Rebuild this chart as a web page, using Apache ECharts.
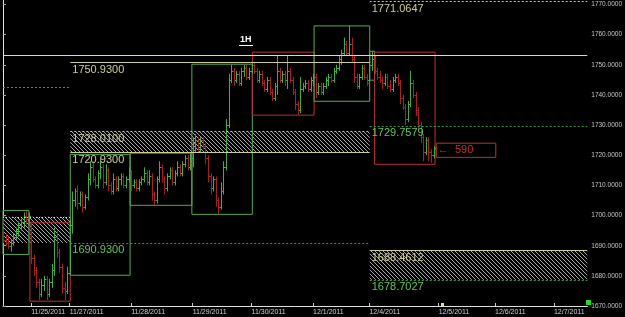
<!DOCTYPE html>
<html><head><meta charset="utf-8">
<script src="https://cdn.jsdelivr.net/npm/echarts@6/dist/echarts.min.js"></script>
<style>html,body{margin:0;padding:0;background:#000}#c{width:625px;height:317px}</style>
</head><body><div id="c"></div><script>
// hourly OHLC bars per session: [open, high, low, close]
const s1124 = [[1694,1695,1691,1692],[1692,1694,1690,1691],[1691,1693,1689,1690],[1690,1692,1688,1691],[1691,1694,1690,1693],[1693,1696,1692,1695],[1695,1698,1693,1697],[1697,1699,1695,1698],[1698,1701,1696,1700],[1700,1701.5,1697,1699],[1699,1701,1697,1700]];
const s1125 = [[1697,1698,1684,1686],[1686,1687,1680,1682],[1682,1683,1676,1678],[1678,1679,1672,1674],[1674,1679,1673,1677],[1677,1680,1675,1679],[1679,1680,1672,1674],[1674,1679,1673,1678],[1678,1684,1676,1682],[1682,1696,1680,1693],[1693,1695,1686,1688],[1688,1689,1681,1683],[1683,1684,1674,1676],[1676,1678,1672,1675],[1675,1683,1674,1681]];
const s1127 = [[1681,1699,1680.5,1697],[1697,1708,1694,1705],[1705,1709,1703,1708],[1708,1710,1702,1704],[1704,1708,1703,1707],[1707,1708,1701,1703],[1703,1707,1702,1706],[1706,1714,1705,1712],[1712,1718,1710,1716],[1716,1718,1711,1712],[1712,1713,1709,1710],[1710,1715,1709,1714],[1714,1719,1712,1716],[1716,1717,1709,1711],[1711,1717,1710,1715],[1715,1716,1708,1710],[1710,1711,1707,1708],[1708,1714,1707,1712],[1712,1713,1708,1709],[1709,1713,1708,1712],[1712,1714,1710,1713],[1713,1714,1709,1710],[1710,1713,1709,1712],[1712,1716,1711,1714]];
const s1128 = [[1714,1715,1708,1710],[1710,1712,1709,1711],[1711,1712,1708,1709],[1709,1712,1708,1711],[1711,1713,1710,1712],[1712,1716,1711,1714],[1714,1715,1710,1711],[1711,1715,1710,1713],[1713,1714,1705,1707],[1707,1708,1703.5,1705],[1705,1713,1704,1712],[1712,1718,1711,1716],[1716,1717,1711,1712],[1712,1713,1707,1709],[1709,1714,1708,1713],[1713,1716,1712,1715],[1715,1716,1710,1711],[1711,1715,1710,1714],[1714,1718,1713,1716],[1716,1717,1713,1714],[1714,1718,1713,1717],[1717,1720,1716,1719],[1719,1720,1715,1716],[1716,1720.5,1715,1719]];
const s1129 = [[1719,1726,1716,1724],[1724,1727,1721,1725],[1725,1726,1721,1722],[1722,1726,1721,1725],[1725,1726,1722,1723],[1723,1724,1717,1719],[1719,1720,1711,1713],[1713,1714,1707,1709],[1709,1713,1708,1712],[1712,1713,1703,1705],[1705,1706,1700.5,1703],[1703,1711,1702,1708],[1708,1718,1707,1716],[1716,1732,1715,1730],[1730,1747,1729,1745],[1745,1750,1744,1748],[1748,1749,1743,1745],[1745,1748,1744,1747],[1747,1748,1743,1744],[1744,1749,1743,1748],[1748,1750,1746,1749],[1749,1750,1745,1746],[1746,1749,1745,1748],[1748,1751,1747,1750]];
const s1130 = [[1750,1751,1747,1748],[1748,1749,1744,1745],[1745,1748,1744,1747],[1747,1748,1743,1744],[1744,1745,1741,1742],[1742,1746,1741,1745],[1745,1746,1740,1741],[1741,1742,1738,1739],[1739,1744,1738,1743],[1743,1753,1740,1748],[1748,1749,1744,1745],[1745,1748,1744,1747],[1747,1748,1743,1745],[1745,1753,1742,1748],[1748,1749,1744,1745],[1745,1746,1740,1741],[1741,1742,1735,1737],[1737,1738,1733.5,1735],[1735,1746,1734,1742],[1742,1744,1741,1743],[1743,1745,1742,1744],[1744,1745,1741,1742],[1742,1746,1741,1745],[1745,1747,1743,1746]];
const s1201 = [[1746,1747,1739,1741],[1741,1744,1740,1743],[1743,1744,1740,1741],[1741,1744,1740,1743],[1743,1746,1742,1745],[1745,1747,1743,1746],[1746,1747,1744,1745],[1745,1749,1744,1748],[1748,1750,1747,1749],[1749,1753,1748,1752],[1752,1755,1750,1754],[1754,1759,1753,1757],[1757,1758,1753,1754],[1754,1763,1753,1757],[1757,1759,1751,1752],[1752,1753,1744,1746],[1746,1747,1742,1743],[1743,1747,1742,1746],[1746,1750,1745,1749],[1749,1750,1745,1746],[1746,1747,1743,1744]];
const s1204 = [[1745,1754,1744.5,1750],[1750,1754.5,1748,1752],[1752,1753,1747,1748],[1748,1749,1745,1746],[1746,1748,1744,1745],[1745,1746,1742,1744],[1744,1747,1743,1746],[1746,1747,1742,1743],[1743,1745,1741,1742],[1742,1746,1741,1745],[1745,1747,1744,1746],[1746,1747,1743,1744],[1744,1745,1737,1739],[1739,1740,1735,1736],[1736,1737,1730,1732],[1732,1738,1731,1737],[1737,1748,1736,1744],[1744,1745,1739,1740],[1740,1741,1733,1735],[1735,1736,1728,1730],[1730,1731,1724,1726],[1726,1727,1718,1721],[1721,1726,1720,1725],[1725,1726,1718,1721],[1721,1722,1717.5,1720],[1720,1723,1719,1722.5]];

// date tick labels at bar slot index
const dateTicks = [[11,'11/25/2011'],[26,'11/27/2011'],[50,'11/28/2011'],[74,'11/29/2011'],[97,'11/30/2011'],[121,'12/1/2011'],[143,'12/4/2011'],[170,'12/5/2011'],[192,'12/6/2011'],[215,'12/7/2011']];
const slotCount = 229;
const yTicksMin = 1670, yTicksMax = 1771.5, yStep = 10;

// session range boxes: [fromSlot, toSlot, high, low, kind]
const boxes = [[0,10.1,1701.7,1687.1,'g'],[10.5,26.25,1697.6,1671.6,'r'],[26.25,49.6,1720.3,1680.2,'g'],[49.6,73.7,1720.7,1703.4,'g'],[73.7,97.3,1750.2,1700.4,'g'],[97.3,121.4,1754.2,1733.3,'r'],[121.4,143.1,1762.9,1737.9,'g'],[143.1,145,1754.5,1744.9,'g'],[145,168.6,1754.2,1717,'r']];
// hatched zones: [fromSlot, toSlot, top, bottom]
const zones = [[0,26.25,1699.6,1690.93],[26.25,143.1,1728.01,1720.93],[143.1,228,1688.46,1678.70]];
// level lines: [fromSlot, toSlot, value, kind, label]
const levels = [[0,228,1753.2,'w',''],[26.25,143.1,1750.93,'k','1750.9300'],[0,26.25,1742.7,'gd',''],[26.25,143.1,1728.01,'kd','1728.0100'],[26.25,143.1,1720.93,'k','1720.9300'],[26.25,143.1,1690.93,'gd','1690.9300'],[0,26.25,1699.6,'wd',''],[143.1,228,1771.0647,'kd','1771.0647'],[143.1,228,1729.7579,'gd','1729.7579'],[143.1,228,1688.4612,'k','1688.4612'],[143.1,228,1678.7027,'gd','1678.7027']];
const lastPrice = 1722.5;
const note = {from:169.1, to:192.3, top:1724.0, bottom:1719.3, text:'590'};

const GREEN = '#45ad45', RED = '#a82020', KHAKI = '#cdcd96', BOXG = '#57a857', BOXR = '#b83035', GLAB = '#5cc85c';
const bars = [].concat(s1124,s1125,s1127,s1128,s1129,s1130,s1201,s1204).map((b,i)=>[i,b[0],b[1],b[2],b[3]]);
const cats = Array.from({length:slotCount},()=> '');
dateTicks.forEach(([i,t])=>{cats[i]=t;});

function hatch(){
  const c=document.createElement('canvas'); c.width=4; c.height=4;
  const g=c.getContext('2d'); g.fillStyle='#000'; g.fillRect(0,0,4,4);
  g.fillStyle='#a8a8a8'; for(let i=0;i<4;i++) g.fillRect(i,i,1,1);
  return c;
}
const pat = {image:hatch(), repeat:'repeat'};
const LF = "'Liberation Sans Narrow','Liberation Sans',sans-serif";

function lineStyleOf(k){
  const m = {w:['#d8d8d8','solid'],k:[KHAKI,'solid'],kd:[KHAKI,[2,2]],gd:['#3d9a3d',[2,2]],wd:['#dddddd',[1,2]]};
  return {color:m[k][0], type:m[k][1], width:1};
}

const chart = echarts.init(document.getElementById('c'), null, {renderer:'canvas'});
chart.setOption({
  backgroundColor:'#000',
  animation:false,
  grid:{left:3,right:34,top:0,bottom:11,containLabel:false},
  xAxis:[
    {type:'value',min:0,max:slotCount-1,show:false},
    {type:'category',data:cats,boundaryGap:false,position:'bottom',
     axisLine:{lineStyle:{color:'#e0e0e0',width:1}},
     axisTick:{inside:true,length:3,interval:(i,v)=>v!=='',lineStyle:{color:'#ccc'}},
     axisLabel:{interval:0,align:'left',margin:3,fontSize:7,color:'#cfcfcf',fontFamily:LF},
     splitLine:{show:false}}
  ],
  yAxis:[
    {type:'value',position:'right',min:yTicksMin,max:yTicksMax,interval:yStep,
     axisLine:{show:true,lineStyle:{color:'#e0e0e0'}},
     axisTick:{show:true,length:3,lineStyle:{color:'#aaa'}},
     axisLabel:{margin:4,fontSize:6.5,color:'#c8c8c8',fontFamily:'Liberation Sans',showMaxLabel:false,formatter:v=>v.toFixed(4)},
     splitLine:{show:false}},
    {type:'value',position:'left',min:yTicksMin,max:yTicksMax,interval:yStep,
     axisLine:{show:true,lineStyle:{color:'#e0e0e0'}},axisTick:{show:false},axisLabel:{show:false},splitLine:{show:false}}
  ],
  graphic:[
    {type:'text',left:240,top:35,style:{text:'1H',fill:'#ffffff',font:'bold 9px Liberation Sans'}},
    {type:'line',shape:{x1:239,y1:45.5,x2:253,y2:45.5},style:{stroke:'#fff',lineWidth:1}},
    {type:'rect',shape:{x:586,y:300,width:5,height:5},style:{fill:'#22dd22'}},
    {type:'rect',shape:{x:441,y:303,width:3,height:3},style:{fill:'#e8e070'}}
  ],
  series:[
    {type:'line',data:[],z:1,silent:true,
     markArea:{silent:true,data:zones.map(z=>[{xAxis:z[0],yAxis:z[2],itemStyle:{color:pat,borderWidth:0}},{xAxis:z[1],yAxis:z[3]}])}},
    {type:'line',data:[],z:2,silent:true,
     markLine:{silent:true,symbol:'none',animation:false,
       data:levels.map(l=>[{coord:[l[0],l[2]],lineStyle:lineStyleOf(l[3]),
         label:{show:!!l[4],formatter:l[4],position:'insideStartBottom',distance:[2,2],
           color:(l[3][0]==='g'?GLAB:KHAKI),fontSize:11,fontFamily:LF}},
         {coord:[l[1],l[2]]}]).concat([
         {yAxis:lastPrice,lineStyle:{opacity:0},label:{show:true,position:'end',formatter:lastPrice.toFixed(4),
           backgroundColor:'#fff',color:'#000',padding:[1,2,1,2],fontSize:6.5,fontFamily:'Liberation Sans',distance:2}}
       ])}},
    {type:'custom',z:3,data:bars,encode:{x:0,y:[1,2,3,4]},
     renderItem:(p,api)=>{
       const x=api.value(0),o=api.value(1),h=api.value(2),l=api.value(3),c=api.value(4);
       const ph=api.coord([x,h]),pl=api.coord([x,l]),po=api.coord([x,o]),pc=api.coord([x,c]);
       const col = c>=o?GREEN:RED;
       const cx = Math.round(ph[0])+0.5;
       const oy = Math.round(po[1])+0.5, cy = Math.round(pc[1])+0.5;
       return {type:'group',children:[
         {type:'line',shape:{x1:cx,y1:ph[1],x2:cx,y2:pl[1]},style:{stroke:col,lineWidth:1}},
         {type:'line',shape:{x1:cx-1.5,y1:oy,x2:cx,y2:oy},style:{stroke:col,lineWidth:1}},
         {type:'line',shape:{x1:cx,y1:cy,x2:cx+1.5,y2:cy},style:{stroke:col,lineWidth:1}}
       ]};
     }},
    {type:'line',data:[],z:4,silent:true,
     markArea:{silent:true,data:boxes.map(b=>[{xAxis:b[0],yAxis:b[2],itemStyle:{color:'rgba(0,0,0,0)',borderColor:b[4]==='g'?BOXG:BOXR,borderWidth:1}},{xAxis:b[1],yAxis:b[3]}]).concat([
       [{xAxis:note.from,yAxis:note.top,itemStyle:{color:'rgba(0,0,0,0)',borderColor:BOXR,borderWidth:1},
         label:{show:true,position:'insideLeft',distance:2,formatter:'\u2190  '+note.text,color:'#c83030',fontSize:11,fontFamily:LF}},
        {xAxis:note.to,yAxis:note.bottom}]
     ])}}
  ]
});
</script></body></html>
